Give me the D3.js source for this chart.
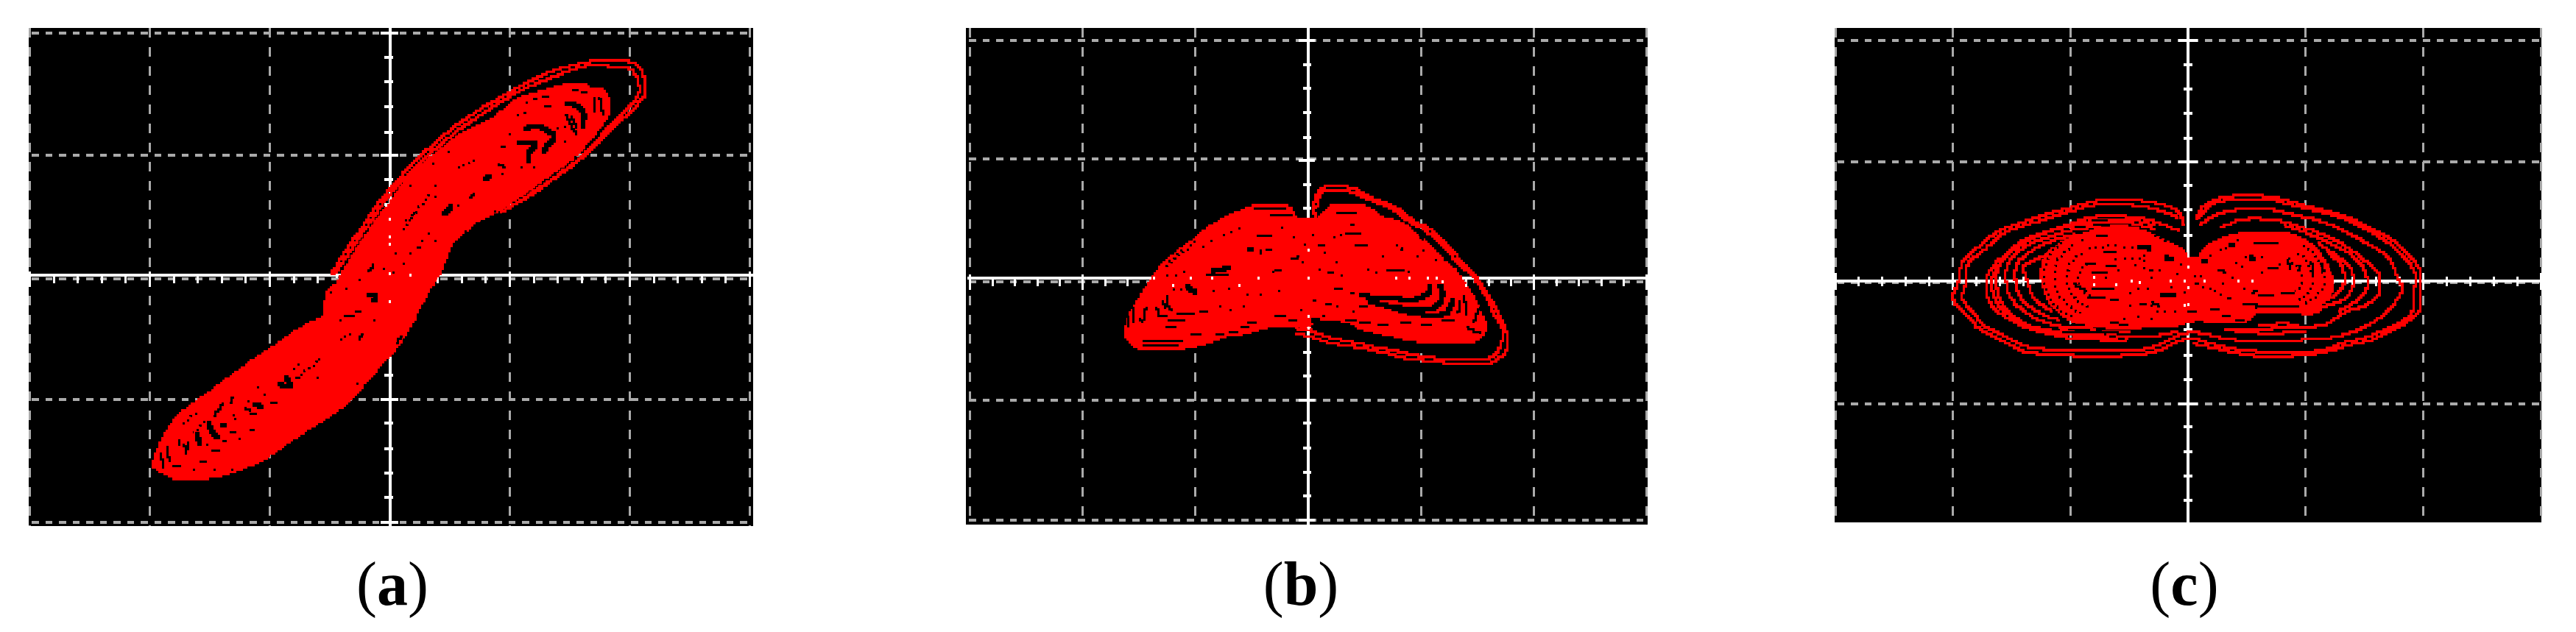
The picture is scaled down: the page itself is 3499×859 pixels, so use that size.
<!DOCTYPE html>
<html>
<head>
<meta charset="utf-8">
<script src="https://cdn.jsdelivr.net/npm/d3@7"></script>
<style>
  html, body { margin: 0; background: #fff; }
  svg { display: block; }
  .label { font-family: "Liberation Serif", serif; font-size: 84px; fill: #000; text-anchor: middle; }
</style>
</head>
<body>
<script>
// scope graticule, values in 1/100 of a division
const gridX = [-300, -200, -100, 0, 100, 200, 300];
const minorX = [-280, -260, -240, -220, -180, -160, -140, -120, -80, -60, -40, -20, 20, 40, 60, 80, 120, 140, 160, 180, 220, 240, 260, 280];
const minorY = [180, 160, 140, 119, 80, 60, 39, 19, -19, -39, -60, -80, -119, -140, -160, -180];
const gridYa = [200, 100, -1, -100, -200];
const gridYb = [200, 101, -1, -100, -200];
const gridYc = [200, 100, 0, -100];
const majorY = [200, 100, -100, -200];

// (a) x-y phase portrait
const aBlob = [[-198,-154],[-194,-140],[-188,-127],[-178,-113],[-164,-102],[-143,-87],[-121,-71],[-94,-53],[-69,-37],[-56,-31],[-56,-24],[-51,-8],[-46,-5],[-38,9],[-26,28],[-14,45],[2,66],[14,83],[33,99],[57,117],[86,132],[106,147],[129,154],[149,159],[162,159],[168,155],[179,154],[183,147],[183,133],[178,125],[167,111],[151,95],[134,83],[117,71],[97,57],[74,45],[54,28],[51,24],[48,15],[43,4],[31,-16],[17,-42],[5,-60],[-8,-74],[-24,-92],[-38,-106],[-53,-116],[-78,-132],[-102,-148],[-124,-158],[-145,-164],[-164,-166],[-178,-166],[-185,-163],[-194,-158]];
const aOrbits = [
  [[-49,3],[-37,22],[-22,43],[-8,63],[19,93],[48,119],[74,137],[100,152],[125,165],[162,176],[184,177],[206,174],[213,152],[205,140],[189,125],[164,101],[140,83],[115,66],[94,54]],
  [[-46,3],[-33,22],[-19,42],[-5,62],[22,91],[51,116],[77,134],[103,150],[128,161],[162,173],[181,173],[202,169],[208,152],[201,141],[184,124],[160,99],[136,81],[112,65],[92,53]]
];
const aGapsThick = [
  [[112,122],[125,123],[133,119],[137,115],[131,107],[127,102]],
  [[105,110],[121,109],[115,101],[115,93]],
  [[146,143],[156,140],[162,132],[160,123]],
  [[45,51],[52,60]],
  [[78,81],[86,83]],
  [[-150,-118],[-149,-126],[-142,-132]],
  [[-140,-119],[-137,-124]],
  [[-161,-126],[-158,-138]],
  [[-114,-104],[-104,-106]],
  [[-93,-88],[-83,-88],[-87,-80]],
  [[-19,-15],[-11,-14],[-15,-20]]
];
const aGapsThin = [
  [[171,147],[171,135]],[[175,147],[178,133]],[[146,133],[156,116]],[[151,132],[156,121]],
  [[66,66],[71,69]],[[91,93],[97,90]],[[92,106],[97,106]],[[23,25],[27,25]],[[32,36],[35,36]],
  [[-18,4],[-13,12]],[[10,12],[14,12]],[[127,148],[132,148]],[[119,145],[124,145]],[[129,140],[135,140]],
  [[105,132],[108,132]],[[112,135],[115,135]],[[152,153],[158,153]],[[160,151],[166,151]],
  [[-171,-136],[-170,-145]],[[-167,-134],[-167,-142]],[[-176,-133],[-176,-138]],[[-186,-138],[-183,-152]],
  [[-191,-144],[-188,-156]],[[-181,-155],[-173,-155]],[[-149,-142],[-140,-142]],[[-158,-150],[-153,-150]],
  [[-133,-126],[-127,-126]],[[-116,-124],[-113,-124]],[[-139,-134],[-136,-134]],[[-100,-103],[-94,-103]],
  [[-116,-111],[-111,-111]],[[-121,-106],[-117,-109]],[[-147,-114],[-139,-102]],[[-79,-82],[-75,-82]],
  [[-38,-32],[-30,-32]],[[-29,-28],[-24,-27]],[[-26,-51],[-22,-45]],[[6,-53],[11,-47]],[[-130,-98],[-133,-103]]
];
const aGapsDotted = [
  [[57,90],[74,96]],[[11,39],[33,69]],[[13,47],[23,54]],[[-75,-80],[-59,-67]],[[-41,-51],[-32,-45]],
  [[-160,-111],[-173,-119]],[[-155,-118],[-164,-127]]
];
const aSpecks = [[49,103],[36,93],[17,75],[38,75],[38,66],[57,59],[94,85],[114,143],[100,117],[140,122],[146,111],[146,123],[120,90],[110,90],[88,54],[63,38],[76,45],[38,30],[27,30],[17,20],[5,20],[-5,7],[3,4],[-36,-9],[-25,-2],[-59,-67],[-76,-71],[-80,-75],[-60,-82],[-110,-90],[-104,-96],[-118,-101],[-130,-113],[-129,-116],[-125,-132],[-152,-137],[-163,-157],[-146,-157],[-131,-157],[-27,-87],[-13,-35],[-41,-35],[-49,-12]];
const aGlints = [[0,48],[0,33],[0,27],[0,3],[0,-20],[17,2],[-44,1],[40,-3],[-3,59]];

// (b)
const bBlob = [[-163,-48],[-163,-40],[-159,-28],[-153,-18],[-144,-4],[-136,7],[-122,21],[-109,30],[-89,45],[-72,54],[-58,60],[-48,63],[-20,63],[-14,60],[-9,53],[-3,53],[7,52],[15,60],[20,63],[48,63],[56,60],[67,53],[80,50],[93,42],[106,31],[117,21],[131,9],[141,-4],[150,-18],[155,-30],[159,-38],[152,-50],[111,-53],[87,-50],[72,-47],[46,-41],[37,-36],[13,-33],[4,-32],[3,-39],[-12,-40],[-35,-40],[-50,-44],[-62,-47],[-73,-48],[-85,-52],[-98,-55],[-114,-58],[-149,-58],[-158,-53]];
const bOrbits = [
  [[-11,-44],[2,-47],[15,-51],[30,-54],[46,-56],[61,-59],[74,-62],[87,-65],[104,-67],[124,-69],[162,-69],[170,-64],[177,-56],[175,-40],[170,-30],[162,-16],[150,1],[137,15],[121,31],[106,44],[93,50],[78,61],[56,69],[39,77],[13,77],[7,70],[5,60],[7,52]],
  [[-11,-40],[2,-42],[15,-47],[30,-50],[46,-53],[61,-56],[74,-58],[87,-61],[104,-64],[124,-66],[148,-66],[163,-64],[170,-56],[172,-40],[166,-30],[159,-16],[148,1],[134,14],[119,29],[104,42],[91,48],[76,59],[55,67],[38,74],[14,74],[10,69],[7,60]]
];
const bGapsThick = [
  [[46,-13],[74,-15],[97,-15],[108,-9],[108,-2]],
  [[54,-18],[89,-24],[112,-23],[119,-12],[116,-2]],
  [[74,-23],[104,-29],[123,-27],[128,-15]],
  [[-54,26],[-48,26]],
  [[-87,7],[-76,9],[-70,12]],
  [[-109,-4],[-104,-9],[-98,-10]]
];
const bGapsThin = [
  [[138,-13],[141,-30]],[[152,-22],[146,-36]],[[134,-16],[133,-28]],[[141,-40],[152,-44]],
  [[25,56],[44,56]],[[33,38],[48,38]],[[41,30],[54,30]],[[36,46],[42,46]],[[69,9],[85,9]],
  [[46,-35],[56,-35]],[[62,-38],[71,-38]],[[82,-35],[92,-35]],[[100,-38],[111,-38]],[[33,-33],[43,-33]],
  [[117,-33],[131,-33]],[[23,-7],[31,-7]],[[8,30],[15,30]],[[16,7],[22,7]],[[59,6],[62,6]],[[37,-10],[42,-10]],
  [[46,-22],[54,-22]],[[14,-20],[20,-20]],[[38,-25],[42,-25]],[[13,-30],[16,-30]],[[77,30],[80,30]],
  [[99,36],[102,33]],[[84,27],[82,25]],
  [[-48,60],[-20,60]],[[-46,36],[-32,36]],[[-33,54],[-14,54]],[[-42,26],[-42,21]],[[-38,25],[-32,25]],
  [[-91,4],[-70,4]],[[-16,17],[-8,20]],[[-29,9],[-24,9]],[[-117,-27],[-101,-27]],[[-124,-33],[-108,-33]],
  [[-127,-40],[-116,-40]],[[-96,-25],[-88,-25]],[[-29,-30],[-19,-30]],[[-18,-33],[-9,-33]],[[-55,-35],[-45,-35]],
  [[-71,-43],[-62,-43]],[[-60,-40],[-51,-40]],[[-82,-45],[-73,-45]],[[-104,-45],[-93,-45]],[[-147,-51],[-111,-51]],
  [[-147,-54],[-114,-54]],[[-129,-17],[-127,-24]],[[-125,-12],[-124,-22],[-120,-26]],[[-135,-22],[-131,-30],[-125,-30]],
  [[-144,-22],[-145,-34]],[[-149,-32],[-147,-36]],[[-156,-22],[-156,-36]],[[-160,-29],[-160,-40]],
  [[-119,-6],[-118,-10]],[[-112,-6],[-112,-10]]
];
const bGapsDotted = [[[-112,25],[-129,9]],[[-100,33],[-122,14]]];
const bSpecks = [[-26,-9],[-42,-12],[-54,-12],[-70,-7],[-84,-9],[-69,-25],[-57,-22],[-78,-22],[5,-17],[-6,-25],[-5,15],[-31,7],[10,9],[15,23],[-3,30],[-13,36],[-23,44],[-61,43],[-68,40],[-75,38],[-86,33],[-93,28],[-110,7],[-117,4],[-125,4],[4,38],[23,36],[29,38],[15,23],[25,15],[53,9],[30,4],[66,20],[6,-17],[26,-22],[89,7],[102,25],[113,17],[97,20],[121,17]];
const bGlints = [[-137,2],[-104,2],[-85,2],[-44,2],[0,2],[-120,-4],[-61,-4],[0,25],[0,-30],[0,-40],[0,-45],[78,2],[90,2],[106,2],[114,2],[119,-1],[140,-4]];

// (c)
const cBlob = [[-126,8],[-123,21],[-114,30],[-101,38],[-91,41],[-75,46],[-45,46],[-24,37],[-6,29],[5,21],[19,33],[41,41],[82,42],[97,37],[111,27],[121,12],[124,0],[121,-13],[115,-17],[113,-25],[82,-26],[59,-26],[51,-32],[28,-34],[7,-32],[-8,-36],[-41,-38],[-70,-38],[-95,-34],[-114,-22],[-123,-7]];
const cOrbits = [
  [[-3,47],[-4,51],[-9,59],[-24,65],[-43,68],[-66,69],[-85,66],[-103,61],[-125,55],[-143,49],[-160,43],[-175,32],[-192,16],[-195,2],[-200,-14],[-189,-26],[-178,-38],[-158,-48],[-139,-57],[-103,-60],[-83,-62],[-51,-60],[-28,-57],[-8,-48],[5,-46]],
  [[-9,54],[-29,61],[-66,65],[-85,63],[-103,58],[-123,52],[-142,46],[-158,40],[-172,28],[-187,15],[-188,2],[-192,-13],[-183,-25],[-173,-36],[-155,-45],[-136,-53],[-103,-56],[-51,-56],[-29,-53],[-9,-44],[8,-40]],
  [[-8,43],[-24,49],[-47,54],[-81,54],[-101,48],[-120,42],[-137,36],[-153,25],[-168,10],[-172,-4],[-166,-20],[-147,-33],[-128,-40],[-91,-47],[-66,-46],[-49,-44],[-28,-44],[-8,-40]],
  [[-28,47],[-49,52],[-81,51],[-104,46],[-124,40],[-141,32],[-156,20],[-166,5],[-167,-4],[-161,-19],[-143,-33],[-122,-40],[-91,-44],[-60,-43]],
  [[-28,44],[-49,49],[-78,49],[-108,45],[-128,39],[-145,29],[-160,15],[-163,1],[-158,-18],[-139,-34],[-116,-40],[-83,-42],[-49,-40]],
  [[-75,46],[-100,43],[-120,37],[-139,29],[-153,16],[-155,2],[-150,-14],[-133,-28],[-110,-36],[-78,-38]],
  [[-95,40],[-114,35],[-131,27],[-145,16],[-147,2],[-141,-14],[-125,-26],[-108,-31]],
  [[-106,31],[-122,22],[-139,13],[-136,-2],[-128,-16],[-114,-24]],
  [[-110,-38],[-91,-44],[-70,-48],[-50,-47]],
  [[7,51],[11,61],[22,68],[34,71],[68,71],[91,66],[110,61],[132,55],[157,44],[176,33],[197,10],[198,-8],[196,-25],[176,-38],[155,-48],[135,-52],[118,-57],[97,-60],[61,-61],[41,-58],[22,-54],[3,-50]],
  [[8,53],[13,59],[23,66],[34,68],[68,69],[91,63],[110,59],[132,53],[155,42],[174,30],[192,10],[192,-10],[190,-26],[172,-37],[153,-45],[132,-50],[118,-55],[97,-58],[61,-57],[41,-55],[22,-51],[5,-46]],
  [[9,47],[24,56],[47,61],[68,61],[86,57],[107,52],[128,45],[149,34],[170,21],[177,7],[182,-5],[172,-22],[162,-30],[143,-40],[126,-45],[105,-47],[49,-48],[30,-46],[7,-41]],
  [[26,45],[47,52],[77,51],[95,46],[111,41],[132,31],[149,19],[162,7],[162,-10],[151,-19],[135,-24],[118,-34],[99,-37],[66,-38],[41,-38]],
  [[82,47],[103,40],[124,31],[141,21],[151,7],[152,-5],[145,-14],[128,-24]],
  [[110,33],[126,22],[137,13],[141,1],[135,-12],[122,-18],[103,-24]],
  [[118,25],[130,15],[133,1],[126,-10],[115,-16]],
  [[30,-38],[50,-41],[75,-42],[100,-40]],
  [[60,-36],[78,-34],[95,-35]]
];
const cGapsThick = [[[-41,30],[-31,27]],[[-20,21],[-12,19]],[[-23,-11],[-9,-11]],[[35,30],[41,30]],[[52,21],[58,19]],[[11,18],[16,16]]];
const cGapsThin = [
  [[-78,38],[-69,38]],[[-72,25],[-60,25]],[[-70,14],[-61,14]],[[-81,8],[-69,8]],[[-85,-13],[-69,-13]],[[-67,-15],[-58,-15]],
  [[-81,52],[-69,52]],[[-100,-35],[-88,-35]],[[-97,-2],[-86,-7]],[[-87,16],[-78,16]],[[-33,10],[-28,10]],[[-81,-5],[-62,-5]],
  [[-42,-18],[-34,-18]],[[-31,-17],[-24,-20]],[[-66,-34],[-58,-34]],[[-58,-36],[-50,-36]],[[-108,-41],[-58,-41]],
  [[56,33],[77,33]],[[68,12],[77,12]],[[24,10],[33,9]],[[60,-11],[73,-11]],[[47,-18],[60,-18]],[[80,-9],[91,-9]],
  [[54,-8],[60,-6]],[[85,19],[88,10]],[[93,10],[97,15]],[[105,18],[107,7]],[[113,16],[116,7]],[[122,15],[124,5]],
  [[5,-2],[10,-2]],[[19,-22],[27,-22]],[[-1,-24],[8,-24]],[[41,-31],[49,-31]],[[57,-21],[95,-20]],[[28,-28],[38,-28]]
];
const cGapsDotted = [
  [[-84,28],[-60,32]],[[-12,34],[-30,38]],[[-55,20],[-35,18]],
  [[-108,33],[-119,21],[-122,0],[-114,-19],[-98,-28]],
  [[-98,30],[-110,19],[-113,0],[-106,-16],[-92,-25]],
  [[-89,24],[-100,16],[-103,0],[-96,-13],[-83,-21]],
  [[-86,15],[-92,9],[-92,-4],[-83,-13]],
  [[99,30],[111,18],[116,0],[110,-11],[96,-19]],
  [[93,24],[103,15],[106,0],[101,-10],[90,-15]],
  [[85,19],[94,12],[97,0],[91,-7]]
];
const cSpecks = [[-90,35],[-54,29],[-47,29],[-37,22],[-62,19],[-45,14],[-37,12],[-59,10],[-70,4],[-31,4],[-24,10],[-49,-9],[-42,-5],[-34,-5],[-54,-30],[-49,-19],[-31,-19],[-26,-24],[-42,-28],[-37,-38],[-6,15],[-9,7],[-14,-4],[-3,-8],[-11,-24],[-20,-24],[-31,-30],[30,-1],[38,4],[23,-7],[34,-13],[48,-5],[11,5],[6,5],[19,-5],[42,35],[32,28],[28,27],[19,22],[41,16],[46,13],[63,21],[49,21],[63,8],[78,15],[13,-4],[28,-10],[36,-13]];
const cGlints = [[-80,4],[-80,-2],[-61,-2],[-48,1],[-41,0],[-15,1],[-3,1],[0,31],[0,22],[0,13],[0,-4],[0,-18],[-3,-19],[14,1],[43,1],[55,1]];

const labels = ["a", "b", "c"];

// where each scope screen sits on the page
const frames = [
  { left: 39, right: 1023, top: 38, bottom: 715, x: [40.5, 1018.5], y: [709.5, 45], axisY: 2, gridY: gridYa, labelX: 533,
    small: [7.7, 4.7], big: [13, 11], down: [0, 11], downMajor: [5, 16] },
  { left: 1312, right: 2238, top: 38, bottom: 713, x: [1317.4, 2236.6], y: [707, 55], axisY: 2, gridY: gridYb, labelX: 1767,
    small: [7, 4], big: [13.5, 8.6], down: [0, 11], downMajor: [5, 16] },
  { left: 2491.5, right: 3452, top: 38, bottom: 710, x: [2493, 3451], y: [713, 55], axisY: 1, gridY: gridYc, labelX: 2967,
    small: [6, 6], big: [13, 13], down: [6.5, 6.5], downMajor: [11.5, 11.5] }
];
const traces = [
  { blob: aBlob, orbits: aOrbits, thick: aGapsThick, thin: aGapsThin, dotted: aGapsDotted, specks: aSpecks, glints: aGlints },
  { blob: bBlob, orbits: bOrbits, thick: bGapsThick, thin: bGapsThin, dotted: bGapsDotted, specks: bSpecks, glints: bGlints },
  { blob: cBlob, orbits: cOrbits, thick: cGapsThick, thin: cGapsThin, dotted: cGapsDotted, specks: cSpecks, glints: cGlints }
];

const cell = 3.1, red = "#ff0000", grey = "#aaaaaa";

const svg = d3.select("body").append("svg").attr("width", 3499).attr("height", 859);

// scope raster: walk the curve and turn it into cell sized stairs
const probe = svg.append("path").attr("fill", "none");
function raster(d, closed) {
  const node = probe.attr("d", d).node(), len = node.getTotalLength();
  let out = "", cx = null, cy = null;
  for (let s = 0; s <= len; s += 1) {
    const p = node.getPointAtLength(s),
        nx = (Math.floor(p.x / cell) + 0.5) * cell,
        ny = (Math.floor(p.y / cell) + 0.5) * cell;
    if (cx === null) out += "M" + nx + "," + ny;
    else if (nx !== cx || ny !== cy) out += "L" + nx + "," + cy + "L" + nx + "," + ny;
    cx = nx; cy = ny;
  }
  return out + (closed ? "Z" : "");
}

frames.forEach(function(f, i) {
  const t = traces[i];
  const x = d3.scaleLinear().domain([-300, 300]).range(f.x);
  const y = d3.scaleLinear().domain([-200, 200]).range(f.y);
  const g = svg.append("g").attr("shape-rendering", "crispEdges");

  g.append("rect").attr("x", f.left).attr("y", f.top)
      .attr("width", f.right - f.left).attr("height", f.bottom - f.top).attr("fill", "#000");

  // dashed graticule
  g.selectAll(".vgrid").data(gridX.filter(d => d !== 0)).enter().append("line")
      .attr("x1", d => x(d)).attr("x2", d => x(d)).attr("y1", f.top).attr("y2", f.bottom)
      .attr("stroke", grey).attr("stroke-width", 3).attr("stroke-dasharray", "13 13");
  g.selectAll(".hgrid").data(f.gridY).enter().append("line")
      .attr("x1", f.left + 4).attr("x2", f.right).attr("y1", d => y(d)).attr("y2", d => y(d))
      .attr("stroke", grey).attr("stroke-width", 4).attr("stroke-dasharray", "9.5 9");

  // white centre axes and their ticks
  const white = g.append("g").attr("stroke", "#fff").attr("stroke-width", 3);
  white.append("line").attr("x1", x(0)).attr("x2", x(0)).attr("y1", f.top).attr("y2", f.bottom).attr("stroke-width", 4);
  white.append("line").attr("x1", f.left + 2).attr("x2", f.right).attr("y1", y(f.axisY)).attr("y2", y(f.axisY)).attr("stroke-width", 4);
  white.selectAll(".ty").data(minorY).enter().append("line")
      .attr("x1", x(0) - f.small[0]).attr("x2", x(0) + f.small[1]).attr("y1", d => y(d)).attr("y2", d => y(d)).attr("stroke-width", 4);
  white.selectAll(".tY").data(majorY.filter(d => y(d) < f.bottom)).enter().append("line")
      .attr("x1", x(0) - f.big[0]).attr("x2", x(0) + f.big[1]).attr("y1", d => y(d)).attr("y2", d => y(d)).attr("stroke-width", 4);
  white.selectAll(".tx").data(minorX).enter().append("line")
      .attr("x1", d => x(d)).attr("x2", d => x(d))
      .attr("y1", y(f.axisY) - f.down[0]).attr("y2", y(f.axisY) + f.down[1]);
  white.selectAll(".tX").data(gridX.filter(d => d !== 0)).enter().append("line")
      .attr("x1", d => x(d)).attr("x2", d => x(d))
      .attr("y1", y(f.axisY) - f.downMajor[0]).attr("y2", y(f.axisY) + f.downMajor[1]);

  // the trace
  const closedLine = d3.line().x(d => x(d[0])).y(d => y(d[1])).curve(d3.curveCatmullRomClosed.alpha(0.5));
  const openLine = d3.line().x(d => x(d[0])).y(d => y(d[1])).curve(d3.curveCatmullRom.alpha(0.5));

  g.append("path").attr("d", raster(closedLine(t.blob), true)).attr("fill", red);
  g.selectAll(".orbit").data(t.orbits).enter().append("path")
      .attr("d", d => raster(openLine(d), false))
      .attr("fill", "none").attr("stroke", red).attr("stroke-width", 3.5);

  // holes left in the trace
  g.selectAll(".thick").data(t.thick).enter().append("path")
      .attr("d", d => raster(openLine(d), false))
      .attr("fill", "none").attr("stroke", "#000").attr("stroke-width", 6);
  g.selectAll(".thin").data(t.thin).enter().append("path")
      .attr("d", d => raster(openLine(d), false))
      .attr("fill", "none").attr("stroke", "#000").attr("stroke-width", 3);
  g.selectAll(".dotted").data(t.dotted).enter().append("path")
      .attr("d", d => raster(openLine(d), false))
      .attr("fill", "none").attr("stroke", "#000").attr("stroke-width", 3).attr("stroke-dasharray", "3 7");
  g.selectAll(".speck").data(t.specks).enter().append("rect")
      .attr("x", d => x(d[0]) - 1.5).attr("y", d => y(d[1]) - 1.5)
      .attr("width", 3).attr("height", 3).attr("fill", "#000");
  g.selectAll(".glint").data(t.glints).enter().append("rect")
      .attr("x", d => x(d[0]) - 1.5).attr("y", d => y(d[1]) - 2)
      .attr("width", 3).attr("height", 4).attr("fill", "#fff");

  // panel letter
  const label = svg.append("text").attr("class", "label").attr("x", f.labelX).attr("y", 822);
  label.append("tspan").text("(");
  label.append("tspan").attr("font-weight", "bold").text(labels[i]);
  label.append("tspan").text(")");
});

probe.remove();
</script>
</body>
</html>
